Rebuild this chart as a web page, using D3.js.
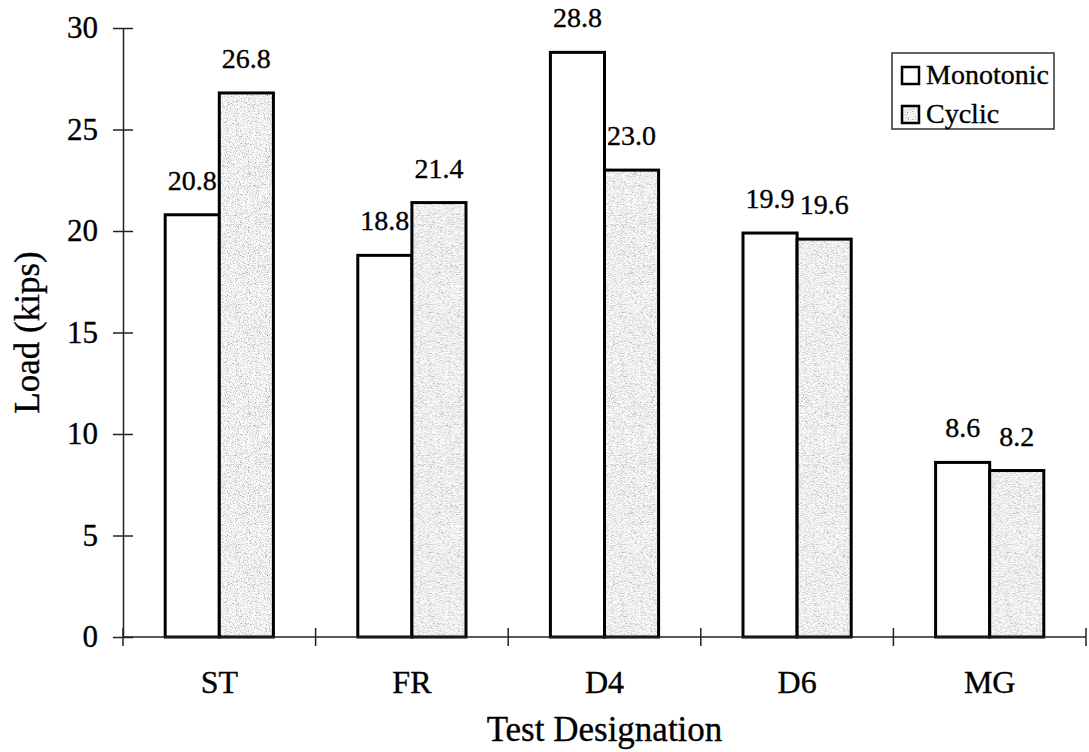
<!DOCTYPE html>
<html>
<head>
<meta charset="utf-8">
<script src="https://cdn.jsdelivr.net/npm/d3@7"></script>
<style>
  html, body { margin: 0; padding: 0; background: #fff; }
  svg { display: block; }
  text { font-family: "Liberation Serif", "Times New Roman", serif; fill: #000; stroke: #000; stroke-width: 0.35px; }
</style>
</head>
<body>
<svg id="chart" width="1089" height="752"></svg>
<script>
// Peak load by test designation
const categories = ["ST", "FR", "D4", "D6", "MG"];
const seriesNames = ["Monotonic", "Cyclic"];
const monotonic = [20.8, 18.8, 28.8, 19.9, 8.6];
const cyclic = [26.8, 21.4, 23.0, 19.6, 8.2];
const yTicks = [0, 5, 10, 15, 20, 25, 30];

const rows = categories.map((c, i) => ({
  category: c,
  values: [
    { series: "Monotonic", value: monotonic[i] },
    { series: "Cyclic", value: cyclic[i] }
  ]
}));

const svg = d3.select("#chart");
const plot = { left: 123, right: 1086, top: 28, bottom: 637 };

// Stippled grey fill for the cyclic bars
const defs = svg.append("defs");
const filt = defs.append("filter").attr("id", "grain")
  .attr("x", 0).attr("y", 0).attr("width", 1).attr("height", 1);
filt.append("feTurbulence").attr("type", "fractalNoise")
  .attr("baseFrequency", 1.1).attr("numOctaves", 2).attr("seed", 7).attr("result", "noise");
filt.append("feColorMatrix").attr("in", "noise").attr("type", "matrix")
  .attr("values", "0.33 0.33 0.33 0 0  0.33 0.33 0.33 0 0  0.33 0.33 0.33 0 0  0 0 0 0 1")
  .attr("result", "gray");
const ct = filt.append("feComponentTransfer").attr("in", "gray");
["R", "G", "B"].forEach(ch => ct.append("feFunc" + ch).attr("type", "linear")
  .attr("slope", 2.6).attr("intercept", -0.42));
const pat = defs.append("pattern").attr("id", "stipple")
  .attr("patternUnits", "userSpaceOnUse").attr("width", 240).attr("height", 240);
pat.append("rect").attr("width", 240).attr("height", 240).attr("fill", "#ddd")
  .attr("filter", "url(#grain)");

const fillFor = s => s === "Cyclic" ? "url(#stipple)" : "#fff";

const x = d3.scaleBand().domain(categories).range([plot.left, plot.right]).paddingInner(0).paddingOuter(0);
const xs = d3.scaleBand().domain(seriesNames).range([0, x.bandwidth()]).paddingInner(0).paddingOuter(0.78);
const y = d3.scaleLinear().domain([0, 30]).range([plot.bottom, plot.top]);

// Y axis with ticks crossing the axis line
const yAxis = svg.append("g").attr("transform", `translate(${plot.left},0)`)
  .call(d3.axisLeft(y).tickValues(yTicks).tickSizeInner(9).tickSizeOuter(0).tickPadding(16));
yAxis.select(".domain").attr("stroke", "#222").attr("stroke-width", 1.5);
yAxis.selectAll(".tick line").attr("x2", -10).attr("x1", 10).attr("stroke", "#222").attr("stroke-width", 1.5);
yAxis.selectAll(".tick text").attr("font-size", 31).attr("font-family", "Liberation Serif").attr("fill", "#000");

// Bars
const groups = svg.append("g").selectAll("g").data(rows).join("g")
  .attr("transform", d => `translate(${x(d.category)},0)`);
groups.selectAll("rect").data(d => d.values).join("rect")
  .attr("x", d => xs(d.series))
  .attr("y", d => y(d.value))
  .attr("width", xs.bandwidth())
  .attr("height", d => y(0) - y(d.value))
  .attr("fill", d => fillFor(d.series))
  .attr("stroke", "#000").attr("stroke-width", 3);

// Value labels above each bar
groups.selectAll("text").data(d => d.values).join("text")
  .attr("x", d => xs(d.series) + xs.bandwidth() / 2)
  .attr("y", d => y(d.value) - 25)
  .attr("text-anchor", "middle")
  .attr("font-size", 28)
  .text(d => d.value.toFixed(1));

// X axis: line with tick marks between categories
const xAxis = svg.append("g");
xAxis.append("line").attr("x1", plot.left).attr("x2", plot.right)
  .attr("y1", plot.bottom).attr("y2", plot.bottom)
  .attr("stroke", "#222").attr("stroke-width", 1.5);
const bounds = categories.map(c => x(c)).concat([x.range()[1]]);
xAxis.selectAll("line.tick").data(bounds).join("line").attr("class", "tick")
  .attr("x1", d => d).attr("x2", d => d)
  .attr("y1", plot.bottom - 9).attr("y2", plot.bottom + 9)
  .attr("stroke", "#222").attr("stroke-width", 1.5);
xAxis.selectAll("text").data(categories).join("text")
  .attr("x", d => x(d) + x.bandwidth() / 2)
  .attr("y", 693)
  .attr("text-anchor", "middle")
  .attr("font-size", 32)
  .text(d => d);

// Axis titles
svg.append("text").attr("x", (plot.left + plot.right) / 2).attr("y", 741)
  .attr("text-anchor", "middle").attr("font-size", 35).text("Test Designation");
svg.append("text")
  .attr("transform", `translate(39,${(plot.top + plot.bottom) / 2}) rotate(-90)`)
  .attr("text-anchor", "middle").attr("font-size", 35).text("Load (kips)");

// Legend
const lg = svg.append("g").attr("transform", "translate(892,53)");
lg.append("rect").attr("width", 162).attr("height", 76)
  .attr("fill", "#fff").attr("stroke", "#333").attr("stroke-width", 1.5);
const items = lg.selectAll("g").data(seriesNames).join("g")
  .attr("transform", (d, i) => `translate(10,${14 + i * 39})`);
items.append("rect").attr("width", 17).attr("height", 17)
  .attr("fill", d => fillFor(d)).attr("stroke", "#000").attr("stroke-width", 2.5);
items.append("text").attr("x", 24).attr("y", 17).attr("font-size", 28).text(d => d);
</script>
</body>
</html>
